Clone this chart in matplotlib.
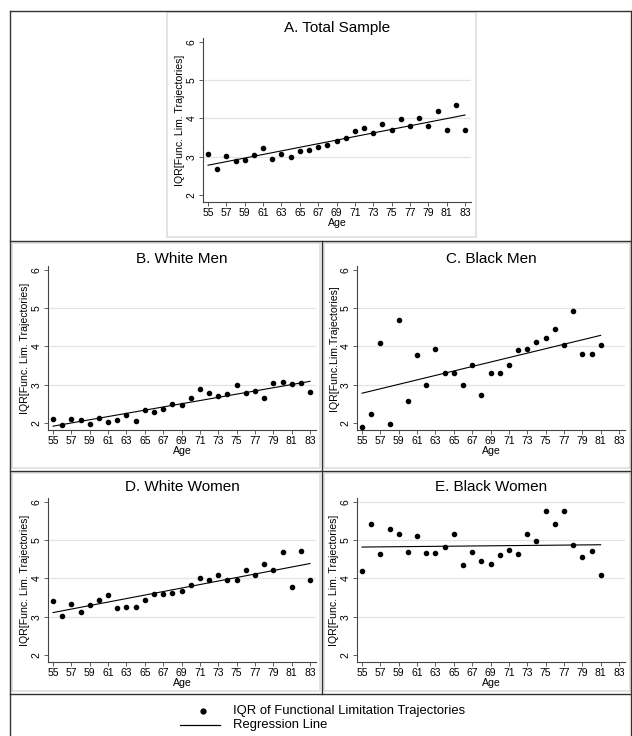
import matplotlib
matplotlib.use("Agg")
import matplotlib.pyplot as plt
from matplotlib.lines import Line2D
from matplotlib.patches import Rectangle

plt.rcParams['font.family'] = ['Liberation Sans', 'DejaVu Sans']

# ---------------- data ----------------
ages_full = list(range(55, 84))
ages_c = [55, 56, 57, 58, 59, 60, 61, 62, 63, 64, 65, 66, 67, 68, 69, 70,
          71, 72, 73, 74, 75, 76, 77, 78, 79, 80, 81]
ages_e = list(range(55, 82))

total_iqr = [3.08, 2.68, 3.02, 2.88, 2.92, 3.04, 3.23, 2.95, 3.07, 3.00,
             3.14, 3.17, 3.26, 3.30, 3.41, 3.49, 3.66, 3.76, 3.63, 3.86,
             3.71, 3.99, 3.80, 4.00, 3.80, 4.20, 3.69, 4.35, 3.71]
white_men_iqr = [2.12, 1.96, 2.12, 2.07, 1.97, 2.14, 2.04, 2.07, 2.20, 2.06,
                 2.33, 2.28, 2.36, 2.51, 2.47, 2.66, 2.88, 2.79, 2.70, 2.76,
                 3.00, 2.78, 2.84, 2.66, 3.04, 3.07, 3.03, 3.05, 2.80]
black_men_iqr = [1.91, 2.24, 4.09, 1.97, 4.69, 2.58, 3.79, 3.00, 3.93, 3.30,
                 3.32, 2.99, 3.52, 2.73, 3.32, 3.32, 3.52, 3.91, 3.93, 4.11,
                 4.21, 4.45, 4.04, 4.92, 3.81, 3.80, 4.05]
white_women_iqr = [3.42, 3.02, 3.34, 3.13, 3.32, 3.45, 3.58, 3.22, 3.26, 3.25,
                   3.45, 3.59, 3.59, 3.63, 3.68, 3.83, 4.00, 3.95, 4.10, 3.96,
                   3.95, 4.21, 4.09, 4.38, 4.22, 4.68, 3.79, 4.71, 3.95]
black_women_iqr = [4.20, 5.42, 4.64, 5.28, 5.16, 4.68, 5.11, 4.66, 4.66, 4.81,
                   5.16, 4.36, 4.68, 4.46, 4.37, 4.62, 4.75, 4.63, 5.16, 4.99,
                   5.75, 5.43, 5.77, 4.87, 4.56, 4.71, 4.09]

# regression line end points (age range, fitted values)
reg_total = ([55, 83], [2.78, 4.09])
reg_white_men = ([55, 83], [1.92, 3.09])
reg_black_men = ([55, 81], [2.78, 4.29])
reg_white_women = ([55, 83], [3.11, 4.39])
reg_black_women = ([55, 81], [4.82, 4.88])

titles = ["A. Total Sample", "B. White Men", "C. Black Men",
          "D. White Women", "E. Black Women"]
ylabels = ["IQR[Func. Lim. Trajectories]", "IQR[Func. Lim. Trajectories]",
           "IQR[Func.Lim.Trajectories]", "IQR[Func. Lim. Trajectories]",
           "IQR[Func. Lim. Trajectories]"]
xticks = list(range(55, 84, 2))
yticks = [2, 3, 4, 5, 6]
legend_labels = ["IQR of Functional Limitation Trajectories", "Regression Line"]

# ---------------- layout ----------------
W, H = 632, 736
fig = plt.figure(figsize=(W / 100, H / 100), dpi=100)


def fx(x):
    return x / W


def fy(y):
    return 1 - y / H


def add_ax(left, top, right, bottom):
    return fig.add_axes([fx(left), fy(bottom), (right - left) / W, (bottom - top) / H])


def hline(x0, x1, y, color, lw):
    fig.add_artist(Line2D([fx(x0), fx(x1)], [fy(y), fy(y)], color=color, lw=lw,
                          transform=fig.transFigure))


def vline(x, y0, y1, color, lw):
    fig.add_artist(Line2D([fx(x), fx(x)], [fy(y0), fy(y1)], color=color, lw=lw,
                          transform=fig.transFigure))


def box(l, t, r, b, color, lw):
    fig.add_artist(Rectangle((fx(l), fy(b)), (r - l) / W, (b - t) / H, fill=False,
                             edgecolor=color, lw=lw, transform=fig.transFigure))


light = "#dedede"
# light grey panel regions
box(167, 12, 476, 237, light, 1.2)
box(12, 243, 320, 468, light, 1.2)
box(324, 243, 630, 468, light, 1.2)
box(12, 473, 320, 691, light, 1.2)
box(324, 473, 630, 691, light, 1.2)

dark = "#333333"
# outer frame and dividers
hline(10, 631, 11, dark, 1.0)
vline(10, 11, 740, dark, 1.0)
vline(631, 11, 740, dark, 1.0)
hline(10, 631, 241, dark, 1.0)
hline(10, 631, 471, dark, 1.0)
hline(10, 631, 694, dark, 1.0)
vline(322, 241, 694, dark, 1.0)

panels = [
    ((203, 38, 471, 202), ages_full, total_iqr, reg_total, 28),
    ((48, 266, 316, 430), ages_full, white_men_iqr, reg_white_men, 259),
    ((357, 266, 625, 430), ages_c, black_men_iqr, reg_black_men, 259),
    ((48, 498, 316, 662), ages_full, white_women_iqr, reg_white_women, 487),
    ((357, 498, 625, 662), ages_e, black_women_iqr, reg_black_women, 487),
]

for i, (rect, xs, ys, reg, title_y) in enumerate(panels):
    l, t, r, b = rect
    ax = add_ax(l, t, r, b)
    ax.set_xlim(54.45, 83.65)
    ax.set_ylim(1.82, 6.1)
    grid_levels = [3, 4, 5] + ([6] if i == 4 else [])
    for g in grid_levels:
        ax.axhline(g, color="#e4e4e4", lw=0.9, zorder=0)
    ax.plot(xs, ys, 'o', color='black', markersize=3.0, zorder=3)
    ax.plot(reg[0], reg[1], '-', color='black', lw=0.8, zorder=2)
    for s in ['top', 'right']:
        ax.spines[s].set_visible(False)
    for s in ['left', 'bottom']:
        ax.spines[s].set_color('#444444')
        ax.spines[s].set_linewidth(0.8)
    ax.set_xticks(xticks)
    ax.set_yticks(yticks)
    ax.tick_params(axis='both', direction='out', length=3, width=0.6,
                   color='#444444', labelsize=7.5, pad=1.5)
    for lab in ax.get_yticklabels():
        lab.set_rotation(90)
        lab.set_va('center')
    ax.set_xlabel("Age", fontsize=7.6, labelpad=0)
    ax.set_ylabel(ylabels[i], fontsize=7.6, labelpad=1)
    ax.patch.set_alpha(0)
    fig.text(fx((l + r) / 2), fy(title_y), titles[i], ha='center', va='center',
             fontsize=11)

# legend
fig.add_artist(Line2D([fx(203)], [fy(711)], marker='o', color='black',
                      markersize=3.5, transform=fig.transFigure))
hline(180, 220, 725, 'black', 0.9)
fig.text(fx(233), fy(711), legend_labels[0], ha='left', va='center', fontsize=9.4)
fig.text(fx(233), fy(725), legend_labels[1], ha='left', va='center', fontsize=9.4)

fig.savefig("out.png", dpi=100)
